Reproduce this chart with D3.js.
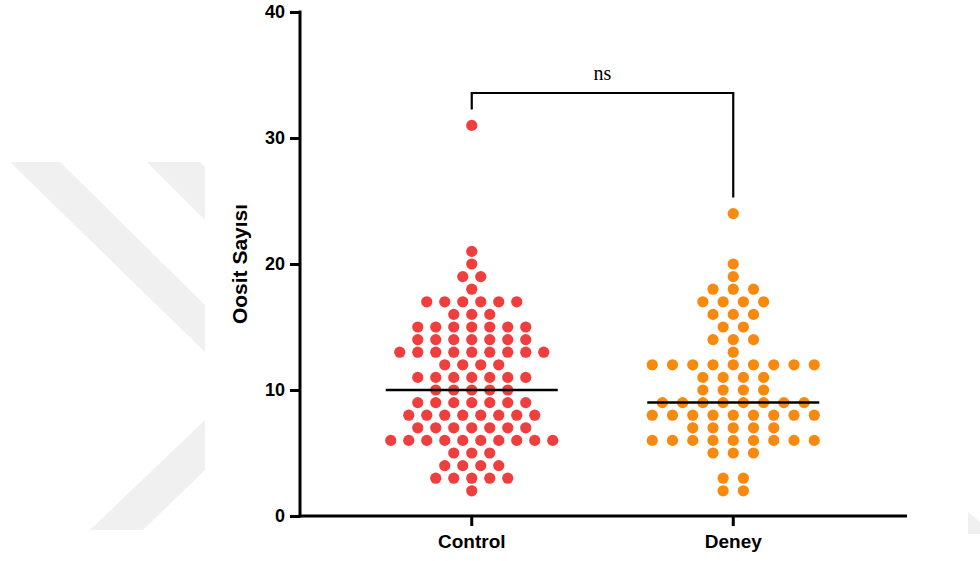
<!DOCTYPE html>
<html>
<head>
<meta charset="utf-8">
<script src="https://cdn.jsdelivr.net/npm/d3@7"></script>
<style>
  html, body { margin: 0; padding: 0; background: #fff; }
  svg { display: block; }
</style>
</head>
<body>
<svg id="chart" width="980" height="561"></svg>
<script>
// ---- Data ----
const categories = ["Control", "Deney"];
const controlValues = [
  31, 21, 20, 19, 19, 18,
  17, 17, 17, 17, 17, 17,
  16, 16, 16,
  15, 15, 15, 15, 15, 15, 15,
  14, 14, 14, 14, 14, 14, 14,
  13, 13, 13, 13, 13, 13, 13, 13, 13,
  12, 12, 12, 12,
  11, 11, 11, 11, 11, 11, 11,
  10, 10, 10, 10, 10,
  9, 9, 9, 9, 9, 9, 9,
  8, 8, 8, 8, 8, 8, 8, 8,
  7, 7, 7, 7, 7, 7, 7,
  6, 6, 6, 6, 6, 6, 6, 6, 6, 6,
  5, 5, 5,
  4, 4, 4, 4,
  3, 3, 3, 3, 3,
  2
];
const deneyValues = [
  24, 20, 19,
  18, 18, 18,
  17, 17, 17, 17,
  16, 16, 16,
  15, 15,
  14, 14, 14,
  13,
  12, 12, 12, 12, 12, 12, 12, 12, 12,
  11, 11, 11, 11,
  10, 10, 10, 10,
  9, 9, 9, 9, 9, 9, 9, 9,
  8, 8, 8, 8, 8, 8, 8, 8, 8,
  7, 7, 7, 7, 7,
  6, 6, 6, 6, 6, 6, 6, 6, 6,
  5, 5, 5,
  3, 3,
  2, 2
];
const yTicks = [0, 10, 20, 30, 40];
const yTitle = "Oosit Sayısı";
const sigLabel = "ns";
const colors = ["#ef3e3e", "#f7890f"];

const groups = [controlValues, deneyValues];

// ---- Layout ----
const svg = d3.select("#chart");

// faint watermark in the background (left side)
const wm = svg.append("g").attr("fill", "#f0f0f0");
wm.append("polygon").attr("points", "10,162 60,162 205,305 205,352");
wm.append("polygon").attr("points", "147,162 200,162 205,167 205,220");
wm.append("polygon").attr("points", "90,530 143,530 205,470 205,420");
wm.append("polygon").attr("points", "968,512 980,522 980,534 968,534");

const y = d3.scaleLinear().domain([0, 40]).range([516, 12]);
const x = d3.scaleBand().domain(categories).range([341, 864]).padding(0);
const cx = c => x(c) + x.bandwidth() / 2;

const axisLeftX = 300, axisRightX = 907;
const dotR = 5.6;
const swarmWidth = 162;
const medianHalf = 86;

// Y axis
const yAxis = svg.append("g")
  .attr("transform", `translate(${axisLeftX},0)`)
  .call(d3.axisLeft(y).tickValues(yTicks).tickSize(10).tickPadding(5).tickSizeOuter(0));
yAxis.select(".domain").remove();
yAxis.selectAll(".tick line").attr("stroke", "#000").attr("stroke-width", 3);
yAxis.selectAll(".tick text")
  .attr("font-family", "Liberation Sans, Arial, sans-serif")
  .attr("font-weight", "bold").attr("font-size", 18).attr("fill", "#000");
svg.append("line")
  .attr("x1", axisLeftX).attr("x2", axisLeftX)
  .attr("y1", y(40) - 1.5).attr("y2", y(0) + 1.5)
  .attr("stroke", "#000").attr("stroke-width", 3);

// X axis
const xAxis = svg.append("g")
  .attr("transform", `translate(0,${y(0)})`)
  .call(d3.axisBottom(x).tickSize(10).tickPadding(9).tickSizeOuter(0));
xAxis.select(".domain").remove();
xAxis.selectAll(".tick line").attr("stroke", "#000").attr("stroke-width", 3);
xAxis.selectAll(".tick text")
  .attr("font-family", "Liberation Sans, Arial, sans-serif")
  .attr("font-weight", "bold").attr("font-size", 19).attr("fill", "#000");
svg.append("line")
  .attr("x1", axisLeftX - 1.5).attr("x2", axisRightX)
  .attr("y1", y(0)).attr("y2", y(0))
  .attr("stroke", "#000").attr("stroke-width", 3);

// Y title
svg.append("text")
  .attr("transform", `translate(247,${(y(0) + y(40)) / 2}) rotate(-90)`)
  .attr("text-anchor", "middle")
  .attr("font-family", "Liberation Sans, Arial, sans-serif")
  .attr("font-weight", "bold").attr("font-size", 21)
  .text(yTitle);

// Dots (column scatter layout: rows by value, centered, common width)
groups.forEach((vals, gi) => {
  const cat = categories[gi];
  const rows = d3.rollups(vals, v => v.length, d => d);
  const maxCount = d3.max(rows, r => r[1]);
  const step = swarmWidth / (maxCount - 1);
  const pts = [];
  rows.forEach(([v, n]) => {
    for (let i = 0; i < n; i++) {
      pts.push({ v, dx: (i - (n - 1) / 2) * step });
    }
  });
  svg.append("g").selectAll("circle").data(pts).join("circle")
    .attr("cx", d => cx(cat) + d.dx)
    .attr("cy", d => y(d.v))
    .attr("r", dotR)
    .attr("fill", colors[gi]);

  const med = d3.median(vals);
  svg.append("line")
    .attr("x1", cx(cat) - medianHalf).attr("x2", cx(cat) + medianHalf)
    .attr("y1", y(med)).attr("y2", y(med))
    .attr("stroke", "#000").attr("stroke-width", 2.5);
});

// Significance bracket
const barY = 93;
const leftEnd = y(d3.max(controlValues)) - 16;
const rightEnd = y(d3.max(deneyValues)) - 16;
svg.append("path")
  .attr("d", `M${cx(categories[0])},${leftEnd} V${barY} H${cx(categories[1])} V${rightEnd}`)
  .attr("fill", "none").attr("stroke", "#000").attr("stroke-width", 2.2);
svg.append("text")
  .attr("x", (cx(categories[0]) + cx(categories[1])) / 2)
  .attr("y", 80)
  .attr("text-anchor", "middle")
  .attr("font-family", "Liberation Serif, Times New Roman, serif")
  .attr("font-size", 20)
  .text(sigLabel);
</script>
</body>
</html>
